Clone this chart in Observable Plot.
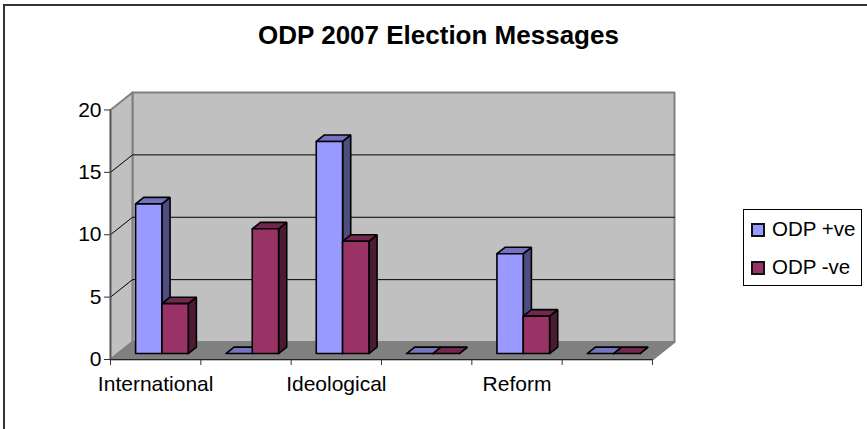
<!DOCTYPE html>
<html><head><meta charset="utf-8">
<script src="https://cdn.jsdelivr.net/npm/d3@7"></script>
<script src="https://cdn.jsdelivr.net/npm/@observablehq/plot@0.6"></script>
<style>
html,body{margin:0;padding:0;background:#fff}
#chart{position:relative;width:867px;height:429px;font-family:"Liberation Sans",Arial,sans-serif;color:#000;overflow:hidden}
#frame{position:absolute;left:3px;top:4px;width:870px;height:440px;border-left:2px solid #333;border-top:2px solid #333;box-sizing:border-box}
#title{position:absolute;left:0;width:877px;top:20px;text-align:center;font-weight:bold;font-size:26px;line-height:30px;white-space:nowrap}
#legend{position:absolute;left:743px;top:209px;width:119px;height:77px;border:1px solid #000;box-sizing:border-box;background:#fff;font-size:20.5px}
.row{position:absolute;left:0;white-space:nowrap;line-height:24px}
.sw{position:absolute;left:7px;top:3px;width:14px;height:14px;border:2px solid #111;box-sizing:border-box}
.row span.t{position:absolute;left:28px;top:-3px}
svg{position:absolute;left:0;top:0}
</style></head>
<body>
<div id="chart">
  <div id="frame"></div>
  <div id="title"></div>
  <div id="legend"></div>
</div>
<script>
const chartTitle = "ODP 2007 Election Messages";
const categories = ["International", "", "Ideological", "", "Reform", ""];
const seriesNames = ["ODP +ve", "ODP -ve"];
const plusValues = [12, 0, 17, 0, 8, 0];
const minusValues = [4, 10, 9, 0, 3, 0];
const yTicks = [0, 5, 10, 15, 20];
const seriesFront = ["#9999ff", "#993366"];
const seriesTop = ["#7373bf", "#732650"];
const seriesSide = ["#4d4d80", "#4d1a33"];

// Oblique projection, in data units: depth 1 = the whole floor
const depthX = 22 / 90.33, depthY = 17.5 / 12.5;
const at = (c, v, d) => ({x: c + d * depthX, y: v + d * depthY});
const xMax = categories.length;
const yMax = yTicks[yTicks.length - 1];

const walls = [
  {id: "back", fill: "#c0c0c0", pts: [at(0,0,1), at(xMax,0,1), at(xMax,yMax,1), at(0,yMax,1)]},
  {id: "left", fill: "#c0c0c0", pts: [at(0,0,0), at(0,0,1), at(0,yMax,1), at(0,yMax,0)]},
  {id: "floor", fill: "#808080", pts: [at(0,0,0), at(xMax,0,0), at(xMax,0,1), at(0,0,1)]}
].flatMap(f => [...f.pts, f.pts[0]].map(p => ({...p, id: f.id, fill: f.fill})));

const gridLines = yTicks.slice(1, -1).flatMap(v => [
  {...at(0, v, 0), id: "g" + v}, {...at(0, v, 1), id: "g" + v}, {...at(xMax, v, 1), id: "g" + v}
]);

// Bars
const barStart = 0.195, barW = 0.2915, d0 = 0.34, d1 = 0.71;
const faces = [];
categories.forEach((_, i) => {
  [plusValues, minusValues].forEach((vals, s) => {
    const v = vals[i], a = i + barStart + s * barW, b = a + barW;
    const add = (id, fill, pts) => [...pts, pts[0]].forEach(p => faces.push({...p, id: `${i}-${s}-${id}`, fill}));
    add("side", seriesSide[s], [at(b,0,d0), at(b,0,d1), at(b,v,d1), at(b,v,d0)]);
    add("top", seriesTop[s], [at(a,v,d0), at(b,v,d0), at(b,v,d1), at(a,v,d1)]);
    if (v > 0) add("front", seriesFront[s], [at(a,0,d0), at(b,0,d0), at(b,v,d0), at(a,v,d0)]);
  });
});

const plot = Plot.plot({
  width: 867, height: 429,
  marginLeft: 110, marginRight: 193, marginTop: 92, marginBottom: 70,
  style: {fontFamily: '"Liberation Sans",Arial,sans-serif', background: "transparent", overflow: "visible"},
  x: {domain: [0, xMax + depthX], axis: null},
  y: {domain: [0, yMax + depthY], axis: null},
  marks: [
    Plot.line(walls, {x: "x", y: "y", z: "id", fill: d => d.fill, stroke: "#808080", strokeWidth: 2, curve: "linear"}),
    Plot.line(gridLines, {x: "x", y: "y", z: "id", stroke: "#000", strokeWidth: 1, curve: "linear"}),
    Plot.ruleX([0], {y1: 0, y2: yMax, stroke: "#555", strokeWidth: 1.5}),
    Plot.ruleY([0], {x1: 0, x2: xMax, stroke: "#222", strokeWidth: 1}),
    Plot.line(faces, {x: "x", y: "y", z: "id", fill: d => d.fill, stroke: "#000", strokeWidth: 1.6, strokeLinejoin: "miter", curve: "linear"}),
    Plot.axisY({ticks: yTicks, tickSize: 6, tickPadding: 3, fontSize: 21, stroke: "#333", fill: "#000", tickFormat: d3.format("d"), label: null}),
    Plot.axisX({ticks: d3.range(xMax + 1), tickSize: 6, tickFormat: null, text: null, stroke: "#333", label: null}),
    Plot.axisX({ticks: categories.map((_, i) => i + 0.5), tickSize: 0, tickPadding: 17, fontSize: 21, fill: "#000", tickFormat: d => categories[d - 0.5], label: null})
  ]
});
document.getElementById("chart").appendChild(plot);
document.getElementById("title").textContent = chartTitle;
const legend = document.getElementById("legend");
seriesNames.forEach((n, i) => {
  const r = document.createElement("div");
  r.className = "row";
  r.style.top = (10 + i * 38) + "px";
  r.innerHTML = `<span class="sw" style="background:${seriesFront[i]}"></span><span class="t">${n}</span>`;
  legend.appendChild(r);
});
</script>
</body></html>
